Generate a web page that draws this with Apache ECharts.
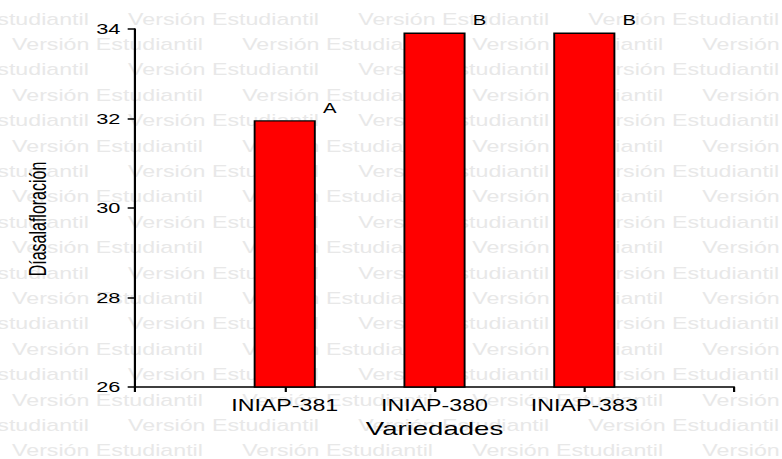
<!DOCTYPE html>
<html>
<head>
<meta charset="utf-8">
<script src="https://cdn.jsdelivr.net/npm/echarts@6/dist/echarts.min.js"></script>
<style>
    html, body { margin: 0; padding: 0; background: #fff; overflow: hidden; }
    /* the original plot is stretched sideways, so draw narrow and widen with css */
    #chart { width: 539px; height: 459px; transform: scale(1.4508, 1); transform-origin: 0 0; }
</style>
</head>
<body>
<div id="chart"></div>
<script>
const categories = ['INIAP-381', 'INIAP-380', 'INIAP-383'];
const values = [31.96, 33.92, 33.92];
const letters = ['A', 'B', 'B'];
const yTicks = [26, 28, 30, 32, 34];

const font = 'Liberation Sans, Arial, sans-serif';

// Marca de agua "Versión Estudiantil"
function watermark() {
    const items = [];
    for (let i = 0; i < 18; i++) {
        const start = (i % 2 === 0) ? 88.3 : 8.3;
        for (let k = -1; k < 4; k++) {
            items.push({
                type: 'text',
                silent: true,
                z: -10,
                x: start + k * 158.6,
                y: 19 + i * 25.4,
                style: {
                    text: 'Versión Estudiantil',
                    fill: '#e8e8e8',
                    fontSize: 16,
                    fontWeight: 'normal',
                    fontFamily: font,
                    verticalAlign: 'middle'
                }
            });
        }
    }
    return items;
}

var chart = echarts.init(document.getElementById('chart'), null, { renderer: 'svg' });
var option = {
    animation: false,
    backgroundColor: 'transparent',
    graphic: watermark(),
    grid: { left: 93, right: 33, top: 29, bottom: 72 },
    xAxis: {
        type: 'value',
        min: 0,
        max: categories.length + 1,
        interval: 1,
        name: 'Variedades',
        nameLocation: 'middle',
        nameGap: 32,
        nameTextStyle: { color: '#000', fontSize: 19, fontFamily: font },
        axisLine: { show: true, lineStyle: { color: '#000', width: 1.5 } },
        axisTick: { show: true, length: 5, lineStyle: { color: '#000', width: 1.5 } },
        axisLabel: {
            color: '#000', fontSize: 16, fontFamily: font, margin: 10,
            formatter: v => categories[v - 1] || ''
        },
        splitLine: { show: false }
    },
    yAxis: {
        type: 'value',
        min: yTicks[0],
        max: yTicks[yTicks.length - 1],
        interval: 2,
        name: 'Díasalafloración',
        nameLocation: 'middle',
        nameGap: 59,
        nameTextStyle: { color: '#000', fontSize: 16, fontFamily: font, padding: [0, 22, 0, 0] },
        axisLine: { show: true, lineStyle: { color: '#000', width: 1.5 } },
        axisTick: { show: true, length: 5, lineStyle: { color: '#000', width: 1.5 } },
        axisLabel: { color: '#000', fontSize: 15, fontFamily: font, margin: 10 },
        splitLine: { show: false }
    },
    series: [{
        type: 'bar',
        barWidth: 42.8,
        data: categories.map((c, i) => [i + 1, values[i]]),
        itemStyle: { color: '#ff0000', borderColor: '#000', borderWidth: 1.3 },
        label: {
            show: true,
            position: 'top',
            distance: 5,
            offset: [31, 0],
            color: '#000',
            fontSize: 14,
            fontFamily: font,
            formatter: p => letters[p.dataIndex]
        }
    }]
};
chart.setOption(option);
</script>
</body>
</html>
